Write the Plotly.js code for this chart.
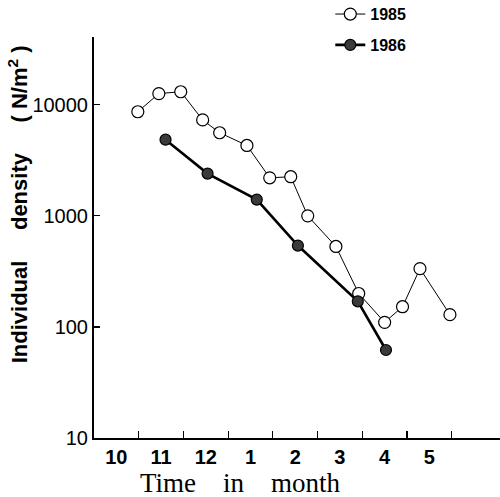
<!DOCTYPE html>
<html>
<head>
<meta charset="utf-8">
<script src="https://cdn.plot.ly/plotly-3.0.1.min.js"></script>
<style>
    body { margin: 0; background: #ffffff; }
    #densityGraphDiv { width: 500px; height: 497px; }
</style>
</head>
<body>
<div id="densityGraphDiv"></div>
<script>
"use strict";

// x = months counted from the start of October
const months1985 = [0.98, 1.45, 1.94, 2.43, 2.81, 3.42, 3.93, 4.40, 4.78, 5.41, 5.92, 6.50, 6.90, 7.29, 7.96];
const density1985 = [8650, 12600, 13100, 7300, 5600, 4300, 2200, 2250, 1000, 530, 200, 110, 152, 335, 129];

const months1986 = [1.60, 2.54, 3.64, 4.56, 5.90, 6.53];
const density1986 = [4850, 2400, 1400, 540, 170, 62];

const monthLabelPos = [0.5, 1.5, 2.5, 3.5, 4.5, 5.5, 6.5, 7.5];
const monthLabels = ['10', '11', '12', '1', '2', '3', '4', '5'];
const monthBounds = [1, 2, 3, 4, 5, 6, 7, 8];

const densityTicks = [10, 100, 1000, 10000];
const densityTickLabels = ['10', '100', '1000', '10000'];

const sansFont = '"Liberation Sans", Arial, sans-serif';
const serifFont = '"Liberation Serif", "Times New Roman", serif';
const nb = '\u00a0';

var trace1985 = {
    x: months1985,
    y: density1985,
    name: '1985',
    type: 'scatter',
    mode: 'lines+markers',
    line: { color: '#000000', width: 1 },
    marker: { symbol: 'circle', size: 12, color: '#ffffff', line: { color: '#000000', width: 1.2 } },
    legend: 'legend'
};

var trace1986 = {
    x: months1986,
    y: density1986,
    name: '1986',
    type: 'scatter',
    mode: 'lines+markers',
    line: { color: '#000000', width: 2.6 },
    marker: { symbol: 'circle', size: 11, color: '#3a3a3a', line: { color: '#000000', width: 1.2 } },
    legend: 'legend2'
};

var layout = {
    width: 500,
    height: 497,
    margin: { l: 94, r: 0, t: 37, b: 59, autoexpand: false },
    paper_bgcolor: '#ffffff',
    plot_bgcolor: '#ffffff',
    showlegend: true,
    legend: {
        x: 0.582, y: 1.057, xanchor: 'left', yanchor: 'middle',
        bgcolor: 'rgba(0,0,0,0)', itemwidth: 30,
        font: { family: sansFont, size: 16, color: '#000000', weight: 'bold' }
    },
    legend2: {
        x: 0.582, y: 0.980, xanchor: 'left', yanchor: 'middle',
        bgcolor: 'rgba(0,0,0,0)', itemwidth: 30,
        font: { family: sansFont, size: 16, color: '#000000', weight: 'bold' }
    },
    xaxis: {
        range: [0, 9.08],
        showgrid: false,
        zeroline: false,
        showline: true,
        linecolor: '#000000',
        linewidth: 2,
        tickmode: 'array',
        tickvals: monthLabelPos,
        ticktext: monthLabels,
        ticks: 'inside',
        ticklen: 0,
        tickfont: { family: sansFont, size: 20, color: '#000000', weight: 'bold' },
        minor: {
            tickmode: 'array',
            tickvals: monthBounds,
            ticks: 'inside',
            ticklen: 7,
            tickwidth: 1.2,
            tickcolor: '#000000',
            showgrid: false
        }
    },
    yaxis: {
        type: 'log',
        range: [1, 4.61],
        showgrid: false,
        zeroline: false,
        showline: true,
        linecolor: '#000000',
        linewidth: 2,
        tickmode: 'array',
        tickvals: densityTicks,
        ticktext: densityTickLabels,
        ticks: 'inside',
        ticklen: 6,
        tickwidth: 1.2,
        tickcolor: '#000000',
        tickfont: { family: sansFont, size: 20, color: '#000000' }
    },
    annotations: [
        {
            text: 'Individual' + nb.repeat(5) + 'density' + nb.repeat(5) + '(' + nb + 'N/m<sup>2</sup>' + nb + ')',
            xref: 'paper', yref: 'paper',
            x: -0.187, y: 0.583,
            xanchor: 'center', yanchor: 'middle',
            textangle: -90,
            showarrow: false,
            font: { family: sansFont, size: 22, color: '#000000', weight: 'bold' }
        },
        {
            text: 'Time' + nb.repeat(4) + 'in' + nb.repeat(4) + 'month',
            xref: 'paper', yref: 'paper',
            x: 0.360, y: -0.112,
            xanchor: 'center', yanchor: 'middle',
            showarrow: false,
            font: { family: serifFont, size: 27, color: '#000000' }
        }
    ]
};

Plotly.newPlot('densityGraphDiv', [trace1985, trace1986], layout, { displayModeBar: false, staticPlot: true });
</script>
</body>
</html>
